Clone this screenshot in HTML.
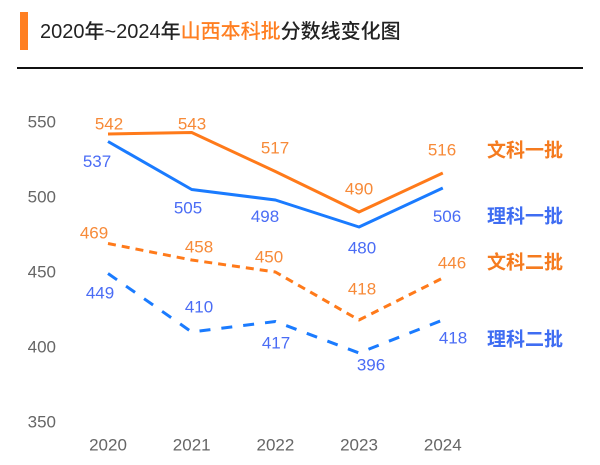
<!DOCTYPE html>
<html>
<head>
<meta charset="utf-8">
<style>
  html,body{margin:0;padding:0;background:#fff;}
  body{width:600px;height:465px;overflow:hidden;}
  svg{display:block;}
  .t{font-family:"Liberation Sans","Noto Sans CJK SC",sans-serif;}
</style>
</head>
<body>
<svg width="600" height="465" viewBox="0 0 600 465" xmlns="http://www.w3.org/2000/svg">
  <rect x="0" y="0" width="600" height="465" fill="#fff"/>
  <!-- title -->
  <rect x="20" y="12" width="8" height="38" fill="#FF7F22"/>
  <text class="t" x="40" y="32" dominant-baseline="central" font-size="20" font-weight="500" fill="#222">2020年~2024年<tspan fill="#FF7F22">山西本科批</tspan>分数线变化图</text>
  <rect x="17" y="67" width="566" height="2" fill="#111"/>

  <!-- y axis labels -->
  <g class="t" font-size="17" fill="#666" text-anchor="end" dominant-baseline="central">
    <text x="56" y="122">550</text>
    <text x="56" y="197">500</text>
    <text x="56" y="272">450</text>
    <text x="56" y="347">400</text>
    <text x="56" y="422">350</text>
  </g>
  <!-- x axis labels -->
  <g class="t" font-size="17" fill="#666" text-anchor="middle" dominant-baseline="central">
    <text x="108" y="445">2020</text>
    <text x="191.7" y="445">2021</text>
    <text x="275.4" y="445">2022</text>
    <text x="359" y="445">2023</text>
    <text x="442.8" y="445">2024</text>
  </g>

  <!-- lines -->
  <g fill="none" stroke-width="3" stroke-linejoin="round" stroke-linecap="butt">
    <polyline stroke="#FF7A1A" points="108,134 191.7,132.5 275.4,171.5 359,212 442.8,173"/>
    <polyline stroke="#1A7BFF" points="108,141.5 191.7,189.5 275.4,200 359,227 442.8,188"/>
    <polyline stroke="#FF7A1A" stroke-dasharray="8,6" points="108,243.5 191.7,260 275.4,272 359,320 442.8,278"/>
    <polyline stroke="#1A7BFF" stroke-dasharray="11,11" points="108,273.5 191.7,332 275.4,321.5 359,353 442.8,320"/>
  </g>

  <!-- value labels orange -->
  <g class="t" font-size="17" fill="#F78A38" text-anchor="middle" dominant-baseline="central">
    <text x="109" y="124">542</text>
    <text x="192" y="124">543</text>
    <text x="275" y="148">517</text>
    <text x="359" y="189">490</text>
    <text x="442" y="150">516</text>
    <text x="94" y="233">469</text>
    <text x="199" y="247">458</text>
    <text x="269" y="257">450</text>
    <text x="362" y="289">418</text>
    <text x="452" y="263">446</text>
  </g>
  <!-- value labels blue -->
  <g class="t" font-size="17" fill="#4A6CF5" text-anchor="middle" dominant-baseline="central">
    <text x="97" y="161.5">537</text>
    <text x="188" y="208">505</text>
    <text x="265" y="216.5">498</text>
    <text x="362" y="248">480</text>
    <text x="447" y="216.5">506</text>
    <text x="100" y="293">449</text>
    <text x="199" y="307">410</text>
    <text x="276" y="343">417</text>
    <text x="371" y="365">396</text>
    <text x="453" y="338">418</text>
  </g>

  <!-- series names -->
  <g class="t" font-size="19" font-weight="bold" dominant-baseline="central">
    <text x="487" y="151" fill="#F57B1F">文科一批</text>
    <text x="487" y="217" fill="#3F6DF2">理科一批</text>
    <text x="487" y="263" fill="#F57B1F">文科二批</text>
    <text x="487" y="340" fill="#3F6DF2">理科二批</text>
  </g>
</svg>
</body>
</html>
